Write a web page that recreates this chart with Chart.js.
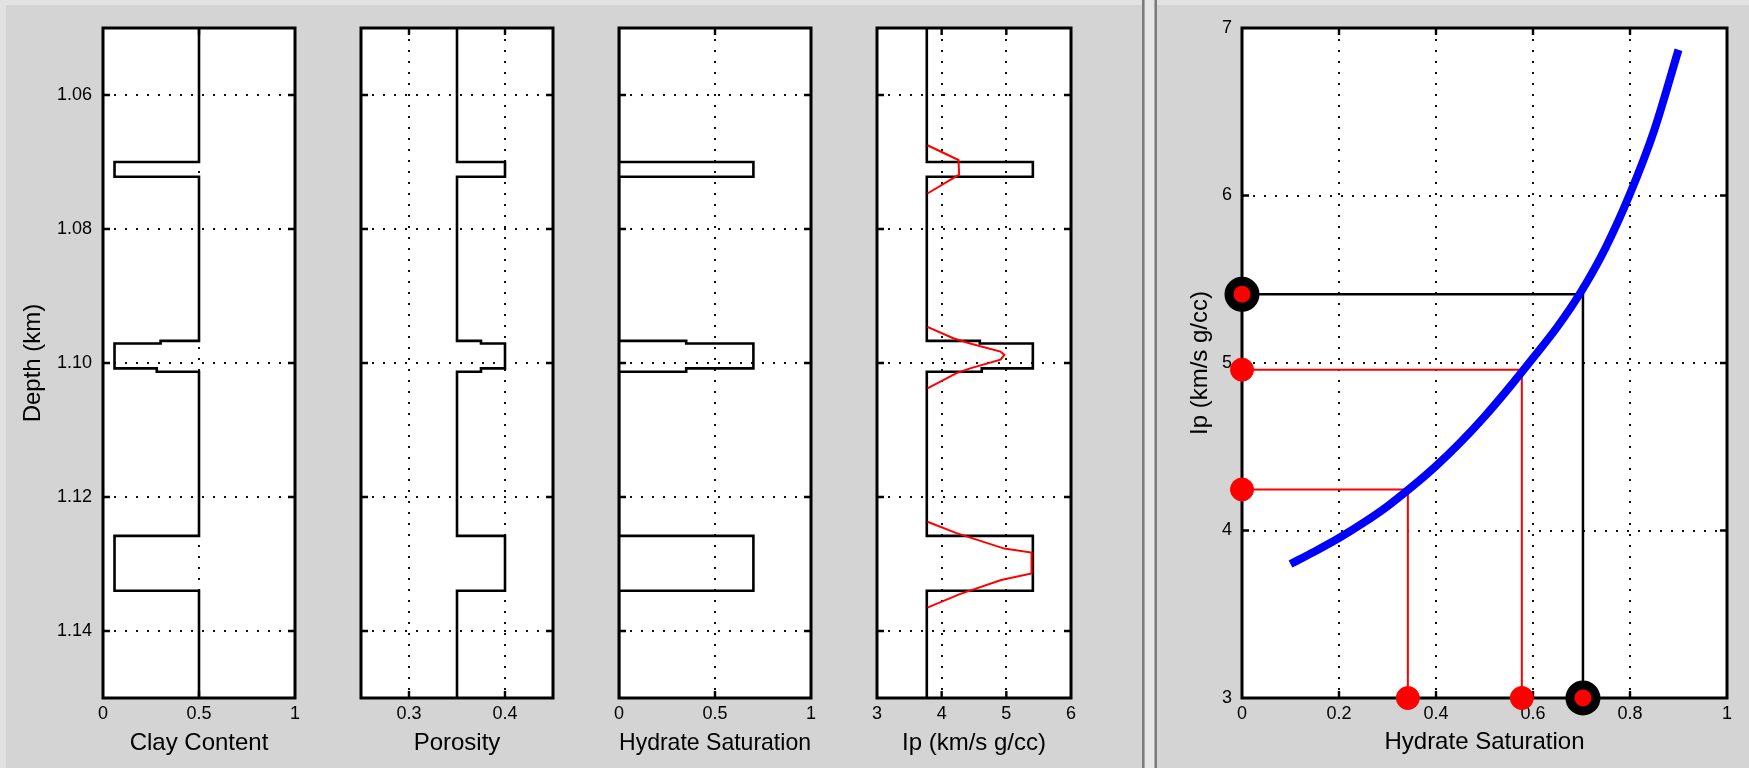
<!DOCTYPE html>
<html>
<head>
<meta charset="utf-8">
<script src="https://cdn.jsdelivr.net/npm/chart.js@4.4.1/dist/chart.umd.min.js"></script>
<style>
html,body{margin:0;padding:0;background:#d4d4d4;width:1749px;height:768px;overflow:hidden;}
canvas{position:absolute;left:0;top:0;}
.band{position:absolute;}
</style>
</head>
<body>
<div class="band" style="left:0;top:0;width:1749px;height:5px;background:#e2e2e2"></div>
<div class="band" style="left:0;top:0;width:6px;height:768px;background:#e2e2e2"></div>
<div class="band" style="left:1142px;top:0;width:2px;height:768px;background:#7c7c7c"></div>
<div class="band" style="left:1144px;top:0;width:1px;height:768px;background:#aaaaaa"></div>
<div class="band" style="left:1145px;top:0;width:9px;height:768px;background:#e6e6e6"></div>
<div class="band" style="left:1154px;top:0;width:1px;height:768px;background:#aaaaaa"></div>
<div class="band" style="left:1155px;top:0;width:2px;height:768px;background:#7c7c7c"></div>
<canvas id="c1" width="1749" height="768"></canvas>
<canvas id="c2" width="1749" height="768"></canvas>
<canvas id="c3" width="1749" height="768"></canvas>
<canvas id="c4" width="1749" height="768"></canvas>
<canvas id="c5" width="1749" height="768"></canvas>
<script>
// ---------------- data ----------------
const depthTicks = [1.06, 1.08, 1.10, 1.12, 1.14];
const depth = [1.05, 1.0700, 1.0700, 1.0722, 1.0722, 1.0967, 1.0967, 1.0971, 1.0971, 1.1008, 1.1008, 1.1013, 1.1013, 1.1258, 1.1258, 1.1340, 1.1340, 1.15];
const clayContent = [0.5, 0.5, 0.06, 0.06, 0.5, 0.5, 0.30, 0.30, 0.06, 0.06, 0.28, 0.28, 0.5, 0.5, 0.06, 0.06, 0.5, 0.5];
const porosity = [0.35, 0.35, 0.40, 0.40, 0.35, 0.35, 0.375, 0.375, 0.40, 0.40, 0.375, 0.375, 0.35, 0.35, 0.40, 0.40, 0.35, 0.35];
const hydrateSat = [0, 0, 0.7, 0.7, 0, 0, 0.35, 0.35, 0.7, 0.7, 0.35, 0.35, 0, 0, 0.7, 0.7, 0, 0];
const ipLog = [3.77, 3.77, 5.41, 5.41, 3.77, 3.77, 4.59, 4.59, 5.41, 5.41, 4.62, 4.62, 3.77, 3.77, 5.41, 5.41, 3.77, 3.77];
const ipSmoothDepth = [1.0675, 1.0697, 1.0719, 1.0747, null, 1.0946, 1.0963, 1.0971, 1.0983, 1.0988, 1.0995, 1.1008, 1.1015, 1.1038, null, 1.1237, 1.1254, 1.1277, 1.1283, 1.1314, 1.1324, 1.1345, 1.1365];
const ipSmooth = [3.78, 4.26, 4.27, 3.78, null, 3.78, 4.18, 4.44, 4.91, 4.97, 4.91, 4.44, 4.23, 3.78, null, 3.78, 4.23, 4.97, 5.39, 5.39, 4.92, 4.28, 3.78];

const clayTicks = [0, 0.5, 1];
const porosityTicks = [0.3, 0.4];
const hydrateTicks = [0, 0.5, 1];
const ipTicks = [3, 4, 5, 6];

const satCurve = [0.10, 0.15, 0.20, 0.25, 0.30, 0.35, 0.40, 0.45, 0.50, 0.55, 0.60, 0.65, 0.70, 0.75, 0.80, 0.85, 0.90];
const ipCurve  = [3.80, 3.875, 3.955, 4.045, 4.145, 4.26, 4.385, 4.525, 4.68, 4.85, 5.03, 5.215, 5.43, 5.69, 6.01, 6.39, 6.87];
const satTicks = [0, 0.2, 0.4, 0.6, 0.8, 1];
const ipAxisTicks = [3, 4, 5, 6, 7];
const pickIp  = [5.41, 4.96, 4.245];
const pickSat = [0.703, 0.577, 0.342];

// ---------------- helpers ----------------
const FONT = '"Liberation Sans", Arial, sans-serif';
Chart.defaults.font.family = FONT;
const pts = (xs, ys) => xs.map((x, i) => ({x: x, y: ys[i]}));
function segments(xs, ys) {
  const out = []; let cur = [];
  xs.forEach((x, i) => {
    if (x === null || ys[i] === null) { if (cur.length) out.push(cur); cur = []; }
    else cur.push({x: x, y: ys[i]});
  });
  if (cur.length) out.push(cur);
  return out;
}
const fmtNum = v => String(+(+v).toFixed(2));
const fmtDepth = v => (+v).toFixed(2);

const framePlugin = {
  id: 'frame',
  beforeDraw(chart) {
    const a = chart.chartArea, ctx = chart.ctx;
    ctx.save(); ctx.fillStyle = '#ffffff';
    ctx.fillRect(a.left, a.top, a.right - a.left, a.bottom - a.top);
    ctx.restore();
  },
  beforeDatasetsDraw(chart) {
    const a = chart.chartArea, ctx = chart.ctx, L = 7;
    const xs = chart.scales.x, ys = chart.scales.y;
    ctx.save(); ctx.strokeStyle = '#000'; ctx.lineWidth = 2.4;
    ctx.beginPath();
    xs.ticks.forEach(t => {
      const p = xs.getPixelForValue(t.value);
      if (p > a.left + 1 && p < a.right - 1) {
        ctx.moveTo(p, a.top); ctx.lineTo(p, a.top + L);
        ctx.moveTo(p, a.bottom); ctx.lineTo(p, a.bottom - L);
      }
    });
    ys.ticks.forEach(t => {
      const p = ys.getPixelForValue(t.value);
      if (p > a.top + 1 && p < a.bottom - 1) {
        ctx.moveTo(a.left, p); ctx.lineTo(a.left + L, p);
        ctx.moveTo(a.right, p); ctx.lineTo(a.right - L, p);
      }
    });
    ctx.stroke();
    ctx.lineWidth = 3;
    ctx.strokeRect(a.left, a.top, a.right - a.left, a.bottom - a.top);
    ctx.restore();
  }
};

function makeScale(o) {
  return {
    type: 'linear', position: o.position, min: o.min, max: o.max, reverse: !!o.reverse,
    afterBuildTicks: s => { s.ticks = o.ticks.map(v => ({value: v})); },
    afterFit: s => { if (o.position === 'left') s.width = o.size; else s.height = o.size; },
    grid: { color: '#111111', lineWidth: 2, drawTicks: false },
    border: { display: false, dash: [2, 9] },
    ticks: { display: !!o.labels, padding: o.pad || 0, color: '#000', autoSkip: false, maxRotation: 0,
             font: {family: FONT, size: 18}, callback: o.fmt || fmtNum },
    title: { display: !!o.title, text: o.title || '', color: '#000', padding: 0,
             font: {family: FONT, size: 24} }
  };
}

const PLOT_TOP = 28, PLOT_BOTTOM = 698, XAXIS_H = 60;

function logChart(id, p) {
  const datasets = [];
  if (p.smooth) {
    p.smooth.forEach(seg => datasets.push({data: seg, showLine: true, borderColor: '#ff0000', borderWidth: 2, pointRadius: 0, tension: 0}));
  }
  datasets.push({data: pts(p.values, depth), showLine: true, borderColor: '#000', borderWidth: 2.6, pointRadius: 0, tension: 0});
  const yW = p.yTitle ? 84 : 40;
  new Chart(document.getElementById(id), {
    type: 'scatter',
    data: {datasets},
    options: {
      responsive: false, animation: false, devicePixelRatio: 1, events: [],
      layout: {padding: {left: p.left - yW, right: 1749 - p.right, top: PLOT_TOP, bottom: 768 - PLOT_BOTTOM - XAXIS_H}},
      plugins: {legend: {display: false}, tooltip: {enabled: false}},
      scales: {
        x: makeScale({position: 'bottom', min: p.min, max: p.max, ticks: p.ticks, size: XAXIS_H, labels: true, pad: 5, title: p.title}),
        y: makeScale({position: 'left', min: 1.05, max: 1.15, reverse: true, ticks: depthTicks, size: yW, labels: !!p.yTitle, pad: 11, fmt: fmtDepth, title: p.yTitle})
      }
    },
    plugins: [framePlugin]
  });
}

logChart('c1', {values: clayContent, min: 0, max: 1, ticks: clayTicks, left: 103, right: 295, title: 'Clay Content', yTitle: 'Depth (km)'});
logChart('c2', {values: porosity, min: 0.25, max: 0.45, ticks: porosityTicks, left: 361, right: 553, title: 'Porosity'});
logChart('c3', {values: hydrateSat, min: 0, max: 1, ticks: hydrateTicks, left: 619, right: 811, title: 'Hydrate Saturation'});
logChart('c4', {values: ipLog, min: 3, max: 6, ticks: ipTicks, left: 877, right: 1071, title: 'Ip (km/s g/cc)', smooth: segments(ipSmooth, ipSmoothDepth)});

// ---------------- right panel ----------------
(function () {
  const ds = [];
  ds.push({data: [{x: 0, y: pickIp[0]}, {x: pickSat[0], y: ipAxisTicks[0]}], showLine: false, clip: false,
           pointRadius: 13, pointBackgroundColor: '#ff0000', pointBorderColor: '#000', pointBorderWidth: 9});
  const redPts = [];
  for (let i = 1; i < pickIp.length; i++) { redPts.push({x: 0, y: pickIp[i]}); redPts.push({x: pickSat[i], y: ipAxisTicks[0]}); }
  ds.push({data: redPts, showLine: false, clip: false, pointRadius: 11.5, pointBackgroundColor: '#ff0000', pointBorderColor: '#ff0000', pointBorderWidth: 1});
  ds.push({data: pts(satCurve, ipCurve), showLine: true, borderColor: '#0000ff', borderWidth: 8, pointRadius: 0, cubicInterpolationMode: 'monotone'});
  for (let i = 0; i < pickIp.length; i++) {
    ds.push({data: [{x: 0, y: pickIp[i]}, {x: pickSat[i], y: pickIp[i]}, {x: pickSat[i], y: ipAxisTicks[0]}],
             showLine: true, borderColor: i === 0 ? '#000' : '#ff0000', borderWidth: i === 0 ? 2.5 : 2, pointRadius: 0, tension: 0});
  }
  const left = 1242, right = 1730, yW = 56;
  new Chart(document.getElementById('c5'), {
    type: 'scatter',
    data: {datasets: ds},
    options: {
      responsive: false, animation: false, devicePixelRatio: 1, events: [],
      layout: {padding: {left: left - yW, right: 1749 - right, top: PLOT_TOP, bottom: 768 - PLOT_BOTTOM - XAXIS_H + 1}},
      plugins: {legend: {display: false}, tooltip: {enabled: false}},
      scales: {
        x: makeScale({position: 'bottom', min: 0, max: 1, ticks: satTicks, size: XAXIS_H - 1, labels: true, pad: 5, title: 'Hydrate Saturation'}),
        y: makeScale({position: 'left', min: 3, max: 7, ticks: ipAxisTicks, size: yW, labels: true, pad: 10, title: 'Ip (km/s g/cc)'})
      }
    },
    plugins: [framePlugin]
  });
})();
</script>
</body>
</html>
